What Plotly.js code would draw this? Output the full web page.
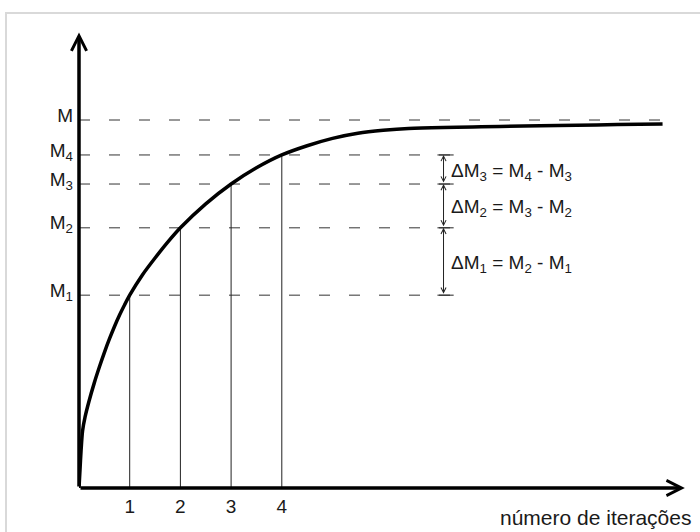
<!DOCTYPE html>
<html>
<head>
<meta charset="utf-8">
<script src="https://cdn.plot.ly/plotly-3.0.1.min.js"></script>
<style>
  html, body { margin: 0; padding: 0; background: #ffffff; }
  body { width: 700px; height: 532px; overflow: hidden; position: relative; }
  #chart { position: absolute; left: 0; top: 0; width: 700px; height: 532px; }
  #frame { position: absolute; left: 5px; top: 12px; width: 740px; height: 580px;
           border: 2px solid #d9d9d9; box-sizing: border-box; pointer-events: none; }
</style>
</head>
<body>
<div id="chart"></div>
<div id="frame"></div>
<script>
// ---- data ----
const iterations = [1, 2, 3, 4];
const levelValues = [0.524, 0.707, 0.826, 0.905];          // M1..M4
const levelLabels = ['M<sub>1</sub>', 'M<sub>2</sub>', 'M<sub>3</sub>', 'M<sub>4</sub>'];
const limitValue = 1.0;                                      // M
const limitLabel = 'M';
const curveX = [0, 0.02, 0.04, 0.07, 0.12, 0.2, 0.3, 0.4, 0.5, 0.6, 0.7, 0.8, 0.9, 1.0,
                1.25, 1.5, 1.75, 2.0, 2.5, 3.0, 3.5, 4.0, 4.5, 5.0, 5.5, 6.0, 6.5, 11.51];
const curveY = [0, 0.05, 0.10, 0.155, 0.193, 0.237, 0.285, 0.328, 0.368, 0.405, 0.439, 0.470, 0.498, 0.524,
                0.579, 0.625, 0.668, 0.707, 0.772, 0.826, 0.870, 0.905, 0.930, 0.950, 0.964, 0.972, 0.977, 0.989];
const deltaLabels = ['ΔM<sub>1</sub> = M<sub>2</sub> - M<sub>1</sub>',
                     'ΔM<sub>2</sub> = M<sub>3</sub> - M<sub>2</sub>',
                     'ΔM<sub>3</sub> = M<sub>4</sub> - M<sub>3</sub>'];
const xAxisTitle = 'número de iterações';
const xAxisEnd = 11.95;
const yAxisEnd = 1.238;
const dashEnd = 7.39;
const limitEnd = 11.51;
const deltaX = 7.19;
const deltaTick = [7.07, 7.39];
const deltaLabelX = 7.29;

// ---- build ----
const FONT = 'Liberation Sans, Arial, sans-serif';
const TXT = '#1a1a1a';
const traces = [];

// dashed reference levels
const dashX = [], dashY = [];
levelValues.forEach(v => { dashX.push(0, dashEnd, null); dashY.push(v, v, null); });
dashX.push(0, limitEnd); dashY.push(limitValue, limitValue);
traces.push({ x: dashX, y: dashY, mode: 'lines', hoverinfo: 'skip',
  line: { color: '#333', width: 1, dash: '11px,19px' } });

// vertical lines at iterations
const vX = [], vY = [];
iterations.forEach((it, i) => { vX.push(it, it, null); vY.push(0, levelValues[i], null); });
traces.push({ x: vX, y: vY, mode: 'lines', hoverinfo: 'skip',
  line: { color: '#222', width: 1 } });

// delta bracket ticks
const tX = [], tY = [];
levelValues.forEach(v => { tX.push(deltaTick[0], deltaTick[1], null); tY.push(v, v, null); });
traces.push({ x: tX, y: tY, mode: 'lines', hoverinfo: 'skip',
  line: { color: '#222', width: 1 } });

// main curve
traces.push({ x: curveX, y: curveY, mode: 'lines', hoverinfo: 'skip',
  line: { color: '#000', width: 3.5, shape: 'spline', smoothing: 0.8 } });

const annotations = [];
// axes arrows
annotations.push({ x: xAxisEnd, y: 0, ax: 0, ay: 0, xref: 'x', yref: 'y', axref: 'x', ayref: 'y',
  text: '', showarrow: true, arrowhead: 5, arrowsize: 0.85, arrowwidth: 3.5, arrowcolor: '#000', standoff: 0 });
annotations.push({ x: 0, y: yAxisEnd, ax: 0, ay: 0, xref: 'x', yref: 'y', axref: 'x', ayref: 'y',
  text: '', showarrow: true, arrowhead: 5, arrowsize: 0.85, arrowwidth: 3.5, arrowcolor: '#000', standoff: 0 });
// delta double arrows + labels
for (let i = 0; i < levelValues.length - 1; i++) {
  annotations.push({ x: deltaX, y: levelValues[i + 1], ax: deltaX, ay: levelValues[i],
    xref: 'x', yref: 'y', axref: 'x', ayref: 'y', text: '', showarrow: true,
    arrowside: 'end+start', arrowhead: 5, startarrowhead: 5, arrowsize: 1, startarrowsize: 1,
    arrowwidth: 1, arrowcolor: '#222', standoff: 0, startstandoff: 0 });
  annotations.push({ x: deltaLabelX, y: (levelValues[i] + levelValues[i + 1]) / 2,
    xref: 'x', yref: 'y', text: deltaLabels[i], showarrow: false, xanchor: 'left', yanchor: 'middle',
    yshift: -2, font: { family: FONT, size: 19, color: TXT } });
}
// x axis title
annotations.push({ x: xAxisEnd, y: 0, xref: 'x', yref: 'y', text: xAxisTitle, showarrow: false,
  xanchor: 'right', yanchor: 'middle', xshift: 8, yshift: -29,
  font: { family: FONT, size: 21, color: TXT } });

const layout = {
  width: 700, height: 532,
  margin: { l: 79, r: 11, t: 25, b: 44, pad: 0 },
  paper_bgcolor: 'rgba(0,0,0,0)', plot_bgcolor: 'rgba(0,0,0,0)',
  showlegend: false,
  font: { family: FONT, size: 19, color: TXT },
  xaxis: { range: [0, 610 / 50.7], autorange: false, showgrid: false, zeroline: false, showline: false,
    tickmode: 'array', tickvals: iterations, ticktext: iterations.map(String), ticks: '',
    ticklabelstandoff: 5,
    tickfont: { family: FONT, size: 19, color: TXT }, automargin: false, fixedrange: true },
  yaxis: { range: [0, 463 / 368], autorange: false, showgrid: false, zeroline: false, showline: false,
    tickmode: 'array', tickvals: levelValues.concat([limitValue]), ticktext: levelLabels.concat([limitLabel]),
    ticks: '', ticklabelshift: -5, ticklabelstandoff: 5,
    tickfont: { family: FONT, size: 19, color: TXT },
    automargin: false, fixedrange: true },
  annotations: annotations
};

Plotly.newPlot('chart', traces, layout, { staticPlot: true, displayModeBar: false });
</script>
</body>
</html>
